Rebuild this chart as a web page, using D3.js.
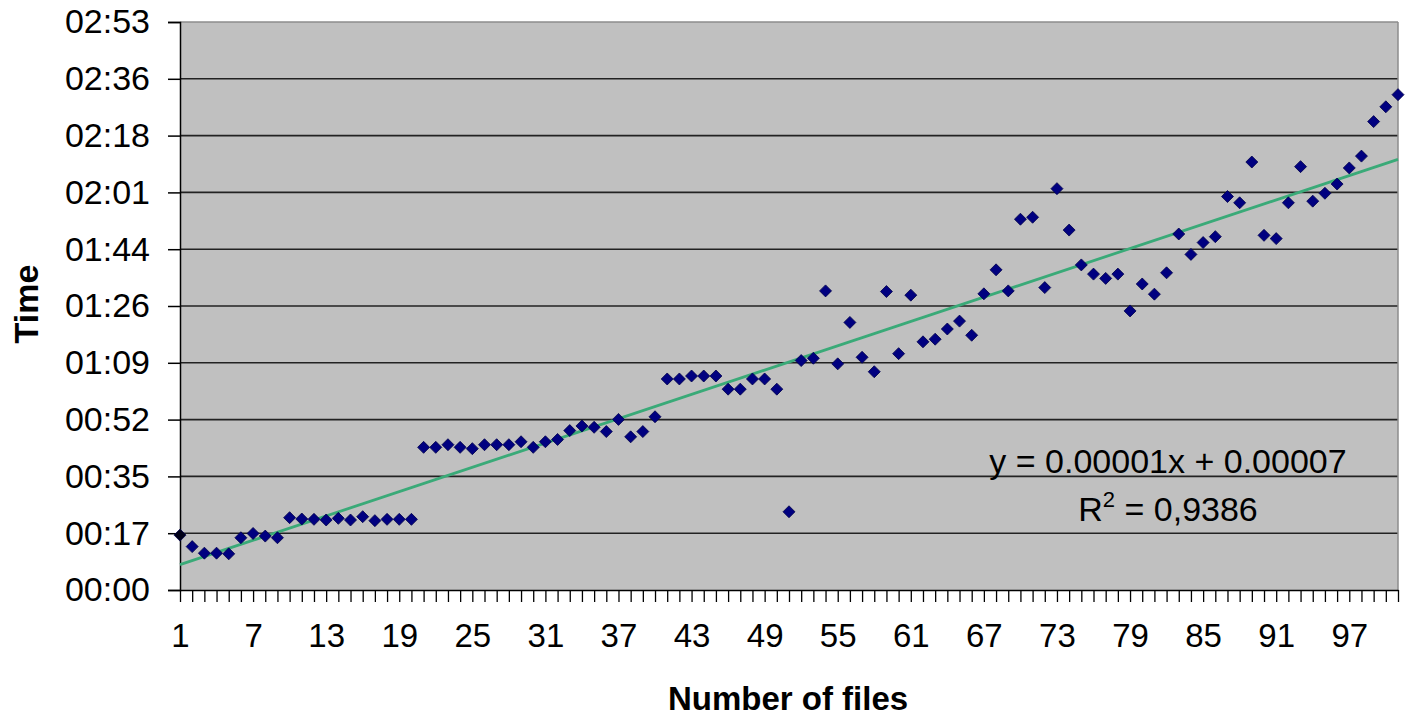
<!DOCTYPE html>
<html>
<head>
<meta charset="utf-8">
<script src="https://cdn.jsdelivr.net/npm/d3@7"></script>
<style>
  html, body { margin: 0; padding: 0; background: #fff; }
  svg { display: block; }
  text { font-family: "Liberation Sans", Arial, sans-serif; fill: #000; }
</style>
</head>
<body>
<svg id="chart" width="1410" height="719"></svg>
<script>
// ---- data ----
const files = d3.range(1, 102); // categories 1..101
const timesSec = [
  16.7, 13.2, 11.2, 11.2, 11.0, 15.9, 17.2, 16.4, 15.9, 22.0,
  21.6, 21.5, 21.3, 21.8, 21.3, 22.3, 21.1, 21.5, 21.5, 21.5,
  43.4, 43.4, 44.2, 43.4, 43.0, 44.2, 44.2, 44.2, 45.1, 43.4,
  45.1, 45.8, 48.5, 49.9, 49.5, 48.2, 51.9, 46.6, 48.2, 52.7,
  64.2, 64.2, 65.1, 65.1, 65.1, 61.1, 61.1, 64.2, 64.2, 61.1,
  23.8, 69.8, 70.5, 91.0, 68.8, 81.4, 70.8, 66.4, 90.8, 71.9,
  89.7, 75.5, 76.3, 79.4, 81.8, 77.5, 90.1, 97.4, 91.0, 112.8,
  113.4, 92.0, 122.1, 109.5, 98.9, 96.1, 94.8, 96.1, 84.9, 93.1,
  90.0, 96.5, 108.3, 102.1, 105.7, 107.5, 119.7, 117.8, 130.2, 107.9,
  106.9, 117.8, 128.8, 118.3, 120.7, 123.5, 128.4, 132.0, 142.5, 147.0,
  150.7
];
const yTickLabels = ["00:00","00:17","00:35","00:52","01:09","01:26","01:44","02:01","02:18","02:36","02:53"];
const yTickStep = 17.28; // seconds (0.0002 day)
const xLabelFiles = [1, 7, 13, 19, 25, 31, 37, 43, 49, 55, 61, 67, 73, 79, 85, 91, 97];
const equationText = "y = 0.00001x + 0.00007";
const r2Value = "0,9386";

// ---- layout ----
const L = 180, R = 1398, T = 22, B = 590;
const svg = d3.select("#chart");

const x = d3.scaleLinear().domain([1, files.length]).range([L, R]);
const y = d3.scaleLinear().domain([0, yTickStep * (yTickLabels.length - 1)]).range([B, T]);
const yTicks = yTickLabels.map((_, i) => i * yTickStep);

// plot background
svg.append("rect").attr("x", L).attr("y", T).attr("width", R - L).attr("height", B - T)
  .attr("fill", "#c0c0c0");

// gridlines
svg.append("g").selectAll("line").data(yTicks.slice(1, -1)).join("line")
  .attr("x1", L).attr("x2", R)
  .attr("y1", d => y(d)).attr("y2", d => y(d))
  .attr("stroke", "#222").attr("stroke-width", 1.6);

// top & right borders (gray)
svg.append("line").attr("x1", L).attr("x2", R).attr("y1", T).attr("y2", T)
  .attr("stroke", "#8c8c8c").attr("stroke-width", 1.5);
svg.append("line").attr("x1", R).attr("x2", R).attr("y1", T).attr("y2", B)
  .attr("stroke", "#8c8c8c").attr("stroke-width", 1.5);

// y axis
const yAxis = d3.axisLeft(y).tickValues(yTicks)
  .tickFormat((d, i) => yTickLabels[i]).tickSize(12).tickPadding(18);
const gy = svg.append("g").attr("transform", `translate(${L},0)`).call(yAxis);
gy.select(".domain").attr("stroke", "#000").attr("stroke-width", 1.5);
gy.selectAll(".tick line").attr("stroke", "#000").attr("stroke-width", 1.5);
gy.selectAll(".tick text").attr("font-size", 34).attr("font-family", "'Liberation Sans', Arial, sans-serif")
  .attr("fill", "#000");

// x axis
const xAxis = d3.axisBottom(x).tickValues(files)
  .tickFormat(d => xLabelFiles.includes(d) ? String(d) : "")
  .tickSize(12).tickPadding(22).tickSizeOuter(0);
const gx = svg.append("g").attr("transform", `translate(0,${B})`).call(xAxis);
gx.select(".domain").attr("stroke", "#000").attr("stroke-width", 1.5);
gx.selectAll(".tick line").attr("stroke", "#000").attr("stroke-width", 1.3);
gx.selectAll(".tick text").attr("font-size", 33).attr("font-family", "'Liberation Sans', Arial, sans-serif")
  .attr("fill", "#000");

// linear trend line (least squares)
const n = files.length;
const mx = d3.mean(files), my = d3.mean(timesSec);
let sxy = 0, sxx = 0;
for (let i = 0; i < n; i++) { sxy += (files[i] - mx) * (timesSec[i] - my); sxx += (files[i] - mx) ** 2; }
const slope = sxy / sxx, icpt = my - slope * mx;
svg.append("line")
  .attr("x1", x(1)).attr("y1", y(icpt + slope * 1))
  .attr("x2", x(n)).attr("y2", y(icpt + slope * n))
  .attr("stroke", "#3aaa78").attr("stroke-width", 2.8);

// markers
const diamond = "M0,-6L6,0L0,6L-6,0Z";
svg.append("g").selectAll("path").data(files).join("path")
  .attr("d", diamond)
  .attr("transform", (d, i) => `translate(${x(d)},${y(timesSec[i])})`)
  .attr("fill", (d, i) => i === 0 ? "#000018" : "#000080")
  .attr("stroke", "#00004a").attr("stroke-width", 0.8);

// equation
const eq = svg.append("g").attr("font-size", 34);
eq.append("text").attr("x", 1168).attr("y", 473).attr("text-anchor", "middle").text(equationText);
const r2 = eq.append("text").attr("x", 1168).attr("y", 521).attr("text-anchor", "middle");
r2.append("tspan").text("R");
r2.append("tspan").attr("font-size", 22).attr("dy", -14).text("2");
r2.append("tspan").attr("dy", 14).text(" = " + r2Value);

// axis titles
svg.append("text").attr("transform", "translate(38,304) rotate(-90)")
  .attr("text-anchor", "middle").attr("font-size", 34).attr("font-weight", "bold").text("Time");
svg.append("text").attr("x", 788).attr("y", 710)
  .attr("text-anchor", "middle").attr("font-size", 33).attr("font-weight", "bold").text("Number of files");
</script>
</body>
</html>
